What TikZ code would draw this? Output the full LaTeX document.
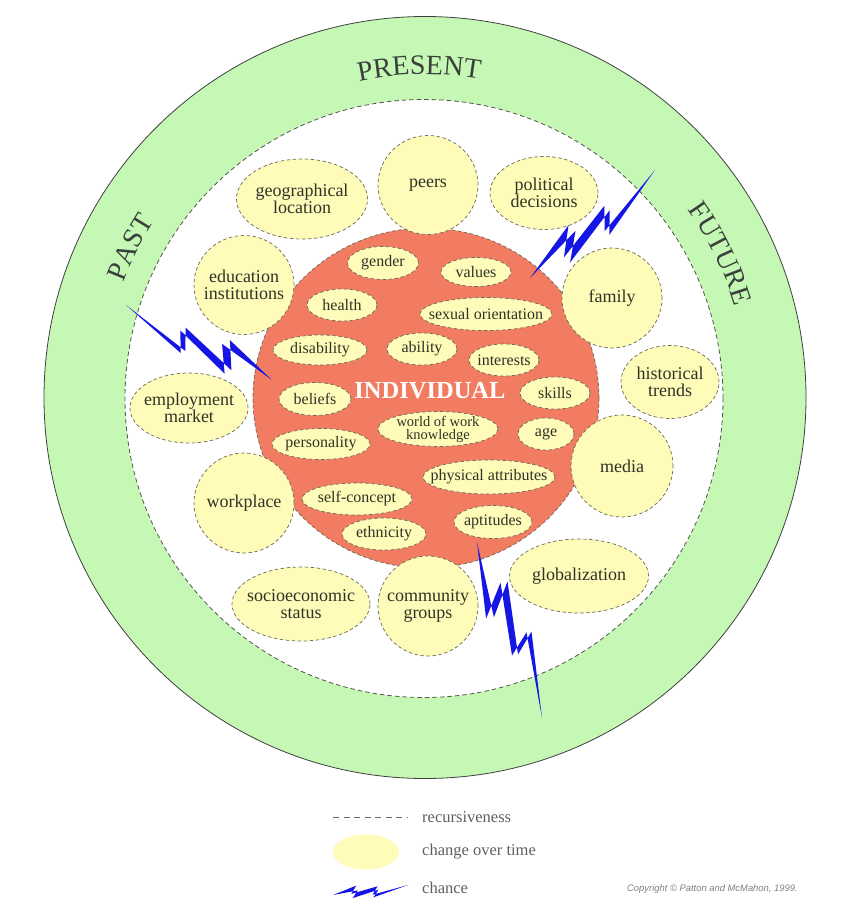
\documentclass[tikz,border=0pt]{standalone}
\usepackage{fontspec}
\setmainfont{Liberation Serif}
\newfontfamily\cpfont{Liberation Sans}
\usetikzlibrary{shapes.geometric,decorations.text}
\definecolor{ringg}{RGB}{197,247,181}
\definecolor{yel}{RGB}{254,252,184}
\definecolor{indred}{RGB}{242,124,98}
\definecolor{txtc}{RGB}{48,50,40}
\definecolor{dashc}{RGB}{105,105,92}
\definecolor{boltc}{RGB}{22,22,228}
\definecolor{lblc}{RGB}{58,64,58}
\definecolor{legc}{RGB}{95,95,95}
\tikzset{
  ell/.style={ellipse, fill=yel, draw=dashc, line width=0.7pt, dash pattern=on 3.5pt off 2.5pt, inner sep=0pt},
  itxt/.style={align=center, text=txtc, inner sep=0pt, font=\fontsize{16}{15}\selectfont},
  itxtsmall/.style={align=center, text=txtc, inner sep=0pt, font=\fontsize{14.5}{13}\selectfont},
  otxt/.style={align=center, text=txtc, inner sep=0pt, font=\fontsize{18}{17}\selectfont},
  boltshape/.style={fill=boltc, draw=none},
  legtxt/.style={anchor=west, text=legc, inner sep=0pt, font=\fontsize{16.5}{16.5}\selectfont},
}
\newcommand\yellip[7]{%
  \node[ell, minimum width=#5pt, minimum height=#6pt] (#1) at (#3,#4) {};
  \node[#2] (#1-t) at (#1.center) {#7};}
\newcommand\lblfont{\fontsize{28}{28}\selectfont\color{lblc}}
\begin{document}
\begin{tikzpicture}[x=1pt,y=1pt]
\useasboundingbox (0,0) rectangle (850,-918);
\fill[white] (0,0) rectangle (850,-918);
\coordinate (C) at (425,-397.5);
% rings
\draw[fill=ringg, draw=black!75, line width=0.8pt] (C) circle[radius=381pt];
\draw[fill=white, draw=dashc!80!black, line width=0.8pt, dash pattern=on 4.5pt off 3pt] (424,-398.5) circle[radius=299pt];
% ring labels
\path[decorate, decoration={text along path, text={|\lblfont|PRESENT}, text align=center}]
  (C) ++(116:323pt) arc[start angle=116, end angle=66, radius=323pt];
\path[decorate, decoration={text along path, text={|\lblfont|PAST}, text align=center}]
  (C) ++(178:323pt) arc[start angle=178, end angle=128, radius=323pt];
\path[decorate, decoration={text along path, text={|\lblfont|FUTURE}, text align=center}]
  (C) ++(51:323pt) arc[start angle=51, end angle=1, radius=323pt];
% individual
\node[ellipse, fill=indred, draw=dashc, line width=0.7pt, dash pattern=on 3.5pt off 2.5pt,
  minimum width=346pt, minimum height=340pt, inner sep=0pt] (indiv) at (426,-398) {};
% inner ellipses
\yellip{gender}{itxt}{383}{-263}{71}{33}{gender}
\yellip{values}{itxt}{476}{-272}{70}{29}{values}
\yellip{health}{itxt}{342}{-305}{70}{32}{health}
\yellip{sexor}{itxt}{486}{-314}{132}{33}{sexual orientation}
\yellip{disab}{itxt}{320}{-350}{94}{30}{disability}
\yellip{ability}{itxt}{422}{-349}{70}{32}{ability}
\yellip{interests}{itxt}{504}{-360}{70}{32}{interests}
\yellip{beliefs}{itxt}{315}{-399}{72}{33}{beliefs}
\yellip{skills}{itxt}{555}{-393}{70}{32}{skills}
\yellip{wow}{itxtsmall}{438}{-429}{120}{35}{world of work\\knowledge}
\yellip{age}{itxt}{546}{-434}{56}{32}{age}
\yellip{person}{itxt}{321}{-444}{98}{31}{personality}
\yellip{phys}{itxt}{489}{-477}{132}{34}{physical attributes}
\yellip{selfc}{itxt}{357}{-499}{110}{32}{self-concept}
\yellip{aptit}{itxt}{493}{-522}{78}{33}{aptitudes}
\yellip{ethn}{itxt}{384}{-534}{84}{32}{ethnicity}
% outer ellipses
\yellip{peers}{otxt}{428}{-185}{100}{99}{peers}
\yellip{geo}{otxt}{302}{-199}{131}{80}{geographical\\location}
\yellip{pol}{otxt}{544}{-193}{108}{73}{political\\decisions}
\yellip{edu}{otxt}{244}{-285}{100}{99}{education\\institutions}
\yellip{family}{otxt}{612}{-298}{100}{100}{family}
\yellip{emp}{otxt}{189}{-408}{118}{70}{employment\\market}
\yellip{hist}{otxt}{670}{-382}{98}{73}{historical\\trends}
\yellip{media}{otxt}{622}{-466}{102}{102}{media}
\yellip{work}{otxt}{244}{-503}{100}{100}{workplace}
\yellip{socio}{otxt}{301}{-604}{138}{74}{socioeconomic\\status}
\yellip{comm}{otxt}{428}{-606}{100}{100}{community\\groups}
\yellip{glob}{otxt}{579}{-576}{139}{74}{globalization}
% INDIVIDUAL label
\node[text=white, inner sep=0pt, font=\fontsize{24.5}{24.5}\selectfont\bfseries] (indlbl) at (430,-391) {INDIVIDUAL};
% lightning bolts
\fill[boltshape] (530,-278) -- (575.5,-230.8) -- (570.1,-262.5) -- (609.7,-210.2) -- (609.3,-234.9) -- (655,-170)
  -- (604.7,-231.1) -- (604.3,-205.8) -- (563.9,-257.5) -- (568.5,-225.2) -- cycle;
\fill[boltshape] (126,-305) -- (180.75,-353.1) -- (180.3,-330.35) -- (224.6,-373.7) -- (222.1,-343.9) -- (272,-380)
  -- (229.9,-340.1) -- (231.4,-370.3) -- (185.7,-327.65) -- (185.25,-350.9) -- cycle;
\fill[boltshape] (477,-542) -- (493.9,-617.3) -- (507.5,-581.4) -- (518,-654.5) -- (531.5,-631.6) -- (542,-718)
  -- (526.5,-632.4) -- (512,-655.5) -- (500.5,-582.6) -- (486.1,-618.7) -- cycle;
% legend
\coordinate (la) at (333,-817);
\coordinate (lb) at (407,-817);
\draw[dashc, line width=0.8pt, dash pattern=on 6pt off 4.5pt] (la) -- (lb);
\node[legtxt] (lrec) at (422,-817) {recursiveness};
\node[ellipse, fill=yel, draw=none, minimum width=66pt, minimum height=35pt, inner sep=0pt] (lell) at (366,-852) {};
\node[legtxt] (lchg) at (422,-852) {change over time};
\fill[boltshape] (333,-895) -- (357.75,-890.4) -- (352.7,-898.1) -- (378.5,-889.7) -- (373.4,-897.3) -- (408,-885)
  -- (372.6,-894.7) -- (377.5,-886.3) -- (351.3,-893.9) -- (356.25,-885.6) -- cycle;
\node[legtxt] (lchn) at (422,-888) {chance};
\node[anchor=west, inner sep=0pt, text=black!50, font=\cpfont\itshape\fontsize{9.4}{9.4}\selectfont] (copy) at (627,-889) {Copyright © Patton and McMahon, 1999.};
\end{tikzpicture}
\end{document}
